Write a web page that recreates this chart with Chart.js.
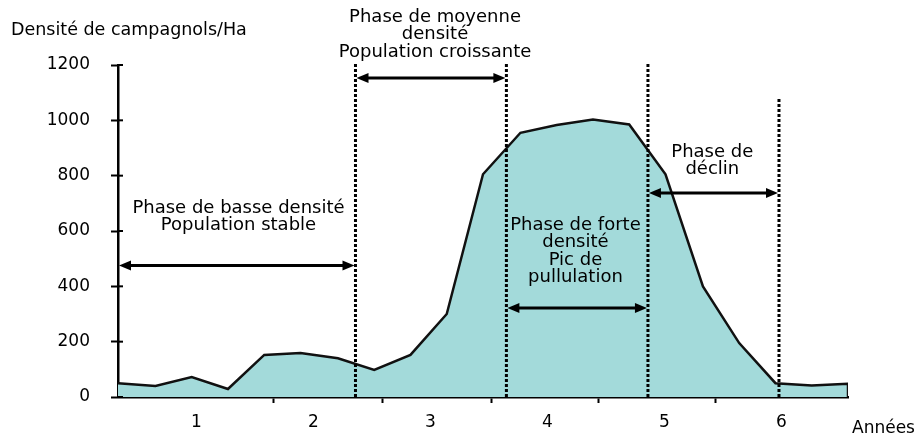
<!DOCTYPE html>
<html>
<head>
<meta charset="utf-8">
<script src="https://cdn.jsdelivr.net/npm/chart.js@4/dist/chart.umd.min.js"></script>
<style>
  html, body { margin: 0; padding: 0; background: #fff; }
  #wrap { width: 923px; height: 439px; position: relative; }
</style>
</head>
<body>
<div id="wrap"><canvas id="chart1"></canvas></div>
<script>
// values (x in years, y in voles per hectare)
const years = [0.33, 0.65, 0.96, 1.27, 1.58, 1.89, 2.21, 2.52, 2.83, 3.14, 3.45,
  3.77, 4.08, 4.39, 4.70, 5.01, 5.33, 5.64, 5.95, 6.26, 6.57, 6.57];
const density = [50, 40, 72, 29, 152, 159, 140, 98, 152, 300, 805,
  955, 983, 1003, 985, 805, 400, 195, 50, 42, 48, 0];

const yearTicks = [1, 2, 3, 4, 5, 6];
const yearLabels = ["1", "2", "3", "4", "5", "6"];
const minorTicks = [1.66, 2.59, 3.52, 4.44, 5.44];
const densityTicks = [0, 200, 400, 600, 800, 1000, 1200];

// phase boundaries (years) and top of each dotted line (density)
const phaseBounds = [2.36, 3.65, 4.86, 5.98];
const phaseTops = [1210, 1210, 1210, 1080];

// arrows: from, to (years), level (density)
const arrowFrom = [0.33, 2.36, 3.65, 4.86];
const arrowTo = [2.36, 3.65, 4.86, 5.98];
const arrowLevel = [475, 1153, 322, 737];

const phaseText = [
  ["Phase de basse densité", "Population stable"],
  ["Phase de moyenne", "densité", "Population croissante"],
  ["Phase de forte", "densité", "Pic de", "pullulation"],
  ["Phase de", "déclin"],
];
const textX = [1.36, 3.04, 4.24, 5.41];
const textY = [683, 1373, 622, 886];

const FONT = '"DejaVu Sans", Verdana, sans-serif';

const ctx1 = document.getElementById("chart1");

const extras = {
  id: "extras",
  afterDatasetsDraw(chart) {
    const { ctx, scales } = chart;
    const x = scales.x, y = scales.y;
    ctx.save();

    // y tick marks crossing into the plot
    ctx.strokeStyle = "#000";
    ctx.lineWidth = 2;
    densityTicks.forEach((v) => {
      const py = y.getPixelForValue(v);
      ctx.beginPath();
      ctx.moveTo(x.left, py);
      ctx.lineTo(x.left + 5, py);
      ctx.stroke();
    });

    // dotted phase lines
    ctx.setLineDash([3, 2]);
    ctx.lineWidth = 3;
    phaseBounds.forEach((b, i) => {
      const px = x.getPixelForValue(b);
      ctx.beginPath();
      ctx.moveTo(px, y.getPixelForValue(0));
      ctx.lineTo(px, y.getPixelForValue(phaseTops[i]));
      ctx.stroke();
    });
    ctx.setLineDash([]);

    // double arrows
    ctx.fillStyle = "#000";
    ctx.lineWidth = 3;
    const head = 12, half = 5;
    arrowFrom.forEach((f, i) => {
      const x1 = x.getPixelForValue(f) + 1;
      const x2 = x.getPixelForValue(arrowTo[i]) - 1;
      const py = y.getPixelForValue(arrowLevel[i]);
      ctx.beginPath();
      ctx.moveTo(x1 + head - 2, py);
      ctx.lineTo(x2 - head + 2, py);
      ctx.stroke();
      ctx.beginPath();
      ctx.moveTo(x1, py);
      ctx.lineTo(x1 + head, py - half);
      ctx.lineTo(x1 + head, py + half);
      ctx.closePath();
      ctx.fill();
      ctx.beginPath();
      ctx.moveTo(x2, py);
      ctx.lineTo(x2 - head, py - half);
      ctx.lineTo(x2 - head, py + half);
      ctx.closePath();
      ctx.fill();
    });

    // phase texts
    ctx.font = "18px " + FONT;
    ctx.textAlign = "center";
    ctx.textBaseline = "middle";
    phaseText.forEach((lines, i) => {
      const cx = x.getPixelForValue(textX[i]);
      const cy = y.getPixelForValue(textY[i]);
      lines.forEach((t, j) => ctx.fillText(t, cx, cy + j * 17.5));
    });

    // axis names
    ctx.textAlign = "left";
    ctx.font = "17.5px " + FONT;
    ctx.fillText("Densité de campagnols/Ha", 11, 30);
    ctx.font = "17px " + FONT;
    ctx.fillText("Années", 852, 429);
    ctx.restore();
  },
};

new Chart(ctx1, {
  type: "line",
  data: {
    datasets: [
      {
        label: "Densité",
        data: years.map((v, i) => ({ x: v, y: density[i] })),
        borderColor: "#111",
        borderWidth: 2.5,
        backgroundColor: "#a3dada",
        fill: "origin",
        pointRadius: 0,
        tension: 0,
      },
    ],
  },
  plugins: [extras],
  options: {
    responsive: true,
    maintainAspectRatio: false,
    animation: false,
    layout: { padding: { top: 65, right: 75, left: 0, bottom: 0 } },
    plugins: {
      legend: { display: false },
      tooltip: { enabled: false },
    },
    scales: {
      x: {
        type: "linear",
        min: 0.33,
        max: 6.57,
        afterFit: (scale) => { scale.height = 42; },
        afterBuildTicks: (scale) => {
          scale.ticks = yearTicks.concat(minorTicks).sort((a, b) => a - b).map((v) => ({ value: v }));
        },
        ticks: {
          autoSkip: false,
          maxRotation: 0,
          padding: 9,
          color: "#000",
          font: { family: FONT, size: 17 },
          callback: (v) => {
            const k = yearTicks.indexOf(v);
            return k >= 0 ? yearLabels[k] : "";
          },
        },
        grid: {
          drawOnChartArea: false,
          tickLength: 6,
          tickWidth: 2,
          tickColor: (c) => (c.tick && yearTicks.includes(c.tick.value) ? "rgba(0,0,0,0)" : "#000"),
        },
        border: { color: "#000", width: 2.5 },
      },
      y: {
        min: 0,
        max: 1200,
        afterFit: (scale) => { scale.width = 118; },
        afterBuildTicks: (scale) => {
          scale.ticks = densityTicks.map((v) => ({ value: v }));
        },
        ticks: {
          padding: 21,
          color: "#000",
          font: { family: FONT, size: 17 },
          callback: (v) => String(v),
        },
        grid: {
          drawOnChartArea: false,
          tickLength: 7,
          tickWidth: 2,
          tickColor: "#000",
        },
        border: { color: "#000", width: 2.5 },
      },
    },
  },
});
</script>
</body>
</html>
